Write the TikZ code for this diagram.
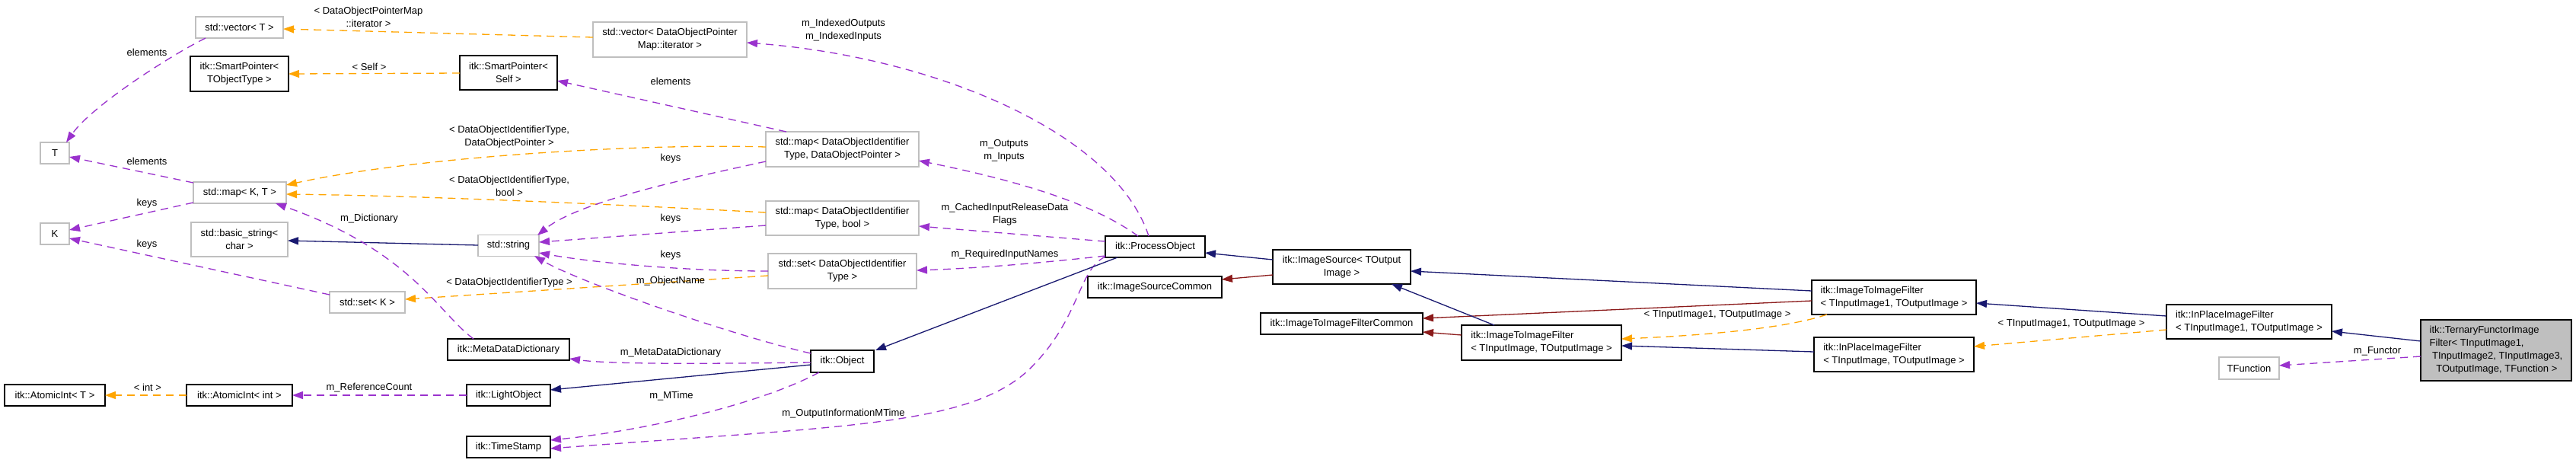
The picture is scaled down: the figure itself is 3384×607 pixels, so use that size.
\documentclass[tikz,border=0pt]{standalone}
\usepackage{fontspec}
\setmainfont{Liberation Sans}
\usetikzlibrary{arrows.meta,calc}
\definecolor{cblue}{HTML}{191970}
\definecolor{cred}{HTML}{8B1A1A}
\definecolor{corange}{HTML}{FFA500}
\definecolor{cpurple}{HTML}{9A32CD}
\definecolor{cgray}{HTML}{BFBFBF}
\begin{document}
\begin{tikzpicture}[x=0.5pt,y=-0.5pt,
  every node/.style={font=\fontsize{6.5}{8.5}\selectfont, inner sep=0pt, outer sep=0pt},
  cls/.style={draw=black, line width=0.9pt, fill=white, align=center},
  tpl/.style={draw=cgray, line width=0.9pt, fill=white, align=center},
  sz/.style 2 args={minimum width={#1*0.5pt}, minimum height={#2*0.5pt}},
  lbl/.style={align=center},
  arrowhd/.style={-{Triangle[length=7pt,width=5pt]}},
  dsh/.style={dash pattern=on 5pt off 3.5pt},
  eblue/.style={draw=cblue, line width=0.65pt, arrowhd, fill=none},
  ered/.style={draw=cred, line width=0.65pt, arrowhd},
  epurple/.style={draw=cpurple, line width=0.65pt, dsh, arrowhd},
  eorange/.style={draw=corange, line width=0.65pt, dsh, arrowhd}
]
\path[fill=white] (0,0) rectangle (3384,607);
\useasboundingbox (0,0) rectangle (3384,607);

% nodes
\node[tpl, sz={115}{28}] (vecT) at (314.5,36) {std::vector< T >};
\node[cls, sz={129}{46}] (spTOT) at (314.5,97) {itk::SmartPointer<\\TObjectType >};
\node[cls, sz={128}{45}] (spSelf) at (668,95.5) {itk::SmartPointer<\\Self >};
\node[tpl, sz={38}{28}] (T) at (72,201) {T};
\node[tpl, sz={122}{28}] (mapKT) at (315,253) {std::map< K, T >};
\node[tpl, sz={38}{28}] (K) at (72,307) {K};
\node[tpl, sz={127}{45}] (bstr) at (314.5,314.5) {std::basic\_string<\\char >};
\node[tpl, sz={80}{28}] (str) at (668,322.5) {std::string};
\node[tpl, sz={99}{28}] (setK) at (482.5,397) {std::set< K >};
\node[cls, sz={160}{28}] (mdd) at (668,459) {itk::MetaDataDictionary};
\node[cls, sz={132}{28}] (aiT) at (72,519) {itk::AtomicInt< T >};
\node[cls, sz={139}{28}] (aiInt) at (314.5,519) {itk::AtomicInt< int >};
\node[cls, sz={110}{28}] (light) at (668,519) {itk::LightObject};
\node[cls, sz={110}{28}] (ts) at (668,587) {itk::TimeStamp};
\node[tpl, sz={202}{46}] (vecDOPM) at (880,52) {std::vector< DataObjectPointer\\Map::iterator >};
\node[tpl, sz={201}{46}] (mapDOP) at (1106.5,196) {std::map< DataObjectIdentifier\\Type, DataObjectPointer >};
\node[tpl, sz={201}{45}] (mapBool) at (1106.5,286.5) {std::map< DataObjectIdentifier\\Type, bool >};
\node[tpl, sz={195}{46}] (setDOIT) at (1106.5,356) {std::set< DataObjectIdentifier\\Type >};
\node[cls, sz={83}{29}] (obj) at (1106.5,474.5) {itk::Object};
\node[cls, sz={131}{28}] (po) at (1517.5,324) {itk::ProcessObject};
\node[cls, sz={176}{28}] (isc) at (1517,377) {itk::ImageSourceCommon};
\node[cls, sz={181}{45}] (is) at (1762.5,350.5) {itk::ImageSource< TOutput\\Image >};
\node[cls, sz={213}{28}] (itifc) at (1762.5,425) {itk::ImageToImageFilterCommon};
\node[cls, sz={210}{46}, align=left] (itif) at (2025,450) {itk::ImageToImageFilter\\< TInputImage, TOutputImage >};
\node[cls, sz={216}{45}, align=left] (itif1) at (2488,390.5) {itk::ImageToImageFilter\\< TInputImage1, TOutputImage >};
\node[cls, sz={210}{45}, align=left] (ipif) at (2488,465.5) {itk::InPlaceImageFilter\\< TInputImage, TOutputImage >};
\node[cls, sz={217}{45}, align=left] (ipif1) at (2954.5,422.5) {itk::InPlaceImageFilter\\< TInputImage1, TOutputImage >};
\node[cls, sz={198}{80}, align=left, fill=cgray] (tern) at (3279,460) {itk::TernaryFunctorImage\\Filter< TInputImage1,\\\hspace*{1.7pt}TInputImage2, TInputImage3,\\\hspace*{4.3pt}TOutputImage, TFunction >};
\node[tpl, sz={79}{29}] (tfun) at (2954.5,483.5) {TFunction};

% edges
\draw[eorange] ($(vecDOPM.center)+(-101,-3)$) -- ($(vecT.center)+(57.5,2)$);
\draw[eorange] ($(spSelf.center)+(-64,0.5)$) -- ($(spTOT.center)+(64.5,0)$);
\draw[epurple] ($(vecT.center)+(-44.5,14)$) .. controls (220,75) and (120,140) .. ($(T.center)+(15,-14)$);
\draw[epurple] ($(mapKT.center)+(-61,-13)$) -- ($(T.center)+(19,5)$);
\draw[epurple] ($(mapKT.center)+(-61,13)$) -- ($(K.center)+(19,-5)$);
\draw[epurple] ($(setK.center)+(-49.5,-10)$) -- ($(K.center)+(19,6)$);
\draw[eorange] ($(mapDOP.center)+(-100.5,-3)$) .. controls (850,188) and (550,205) .. ($(mapKT.center)+(61,-10)$);
\draw[eorange] ($(mapBool.center)+(-100.5,-7.5)$) .. controls (800,268) and (550,257) .. ($(mapKT.center)+(61,2)$);
\draw[eorange] ($(setDOIT.center)+(-97.5,6)$) -- ($(setK.center)+(49.5,-4)$);
\draw[eblue] ($(str.center)+(-40,-0.5)$) -- ($(bstr.center)+(63.5,1.5)$);
\draw[epurple] ($(mapDOP.center)+(-100.5,16)$) .. controls (900,235) and (760,265) .. ($(str.center)+(38,-13.5)$);
\draw[epurple] ($(mapBool.center)+(-100.5,9.5)$) -- ($(str.center)+(40,-4.5)$);
\draw[epurple] ($(setDOIT.center)+(-97.5,0)$) .. controls (900,356) and (780,345) .. ($(str.center)+(40,9.5)$);
\draw[epurple] ($(obj.center)+(-41.5,-10.5)$) .. controls (960,440) and (760,370) .. ($(str.center)+(34,13.5)$);
\draw[epurple] ($(obj.center)+(-41.5,1.5)$) .. controls (900,478) and (800,478) .. ($(mdd.center)+(80,12)$);
\draw[epurple] ($(mdd.center)+(-46,-14)$) .. controls (575,410) and (540,330) .. ($(mapKT.center)+(47,14)$);
\draw[eblue] ($(obj.center)+(-41.5,4.5)$) -- ($(light.center)+(55,-7)$);
\draw[epurple] ($(light.center)+(-55,0)$) -- ($(aiInt.center)+(69.5,0)$);
\draw[eorange] ($(aiInt.center)+(-69.5,0)$) -- ($(aiT.center)+(66,0)$);
\draw[epurple] ($(obj.center)+(-30.5,14.5)$) .. controls (1000,530) and (850,565) .. ($(ts.center)+(55,-9)$);
\draw[epurple] ($(po.center)+(-65.5,13)$) .. controls (1415,355) and (1420,420) .. (1350,487) .. controls (1270,560) and (1100,560) .. ($(ts.center)+(55,2)$);
\draw[eblue] ($(po.center)+(-49.5,14)$) -- ($(obj.center)+(43.5,-14.5)$);
\draw[epurple] ($(mapDOP.center)+(-73.5,-23)$) -- ($(spSelf.center)+(64,10.5)$);
\draw[epurple] ($(po.center)+(-8.5,-14)$) .. controls (1465,175) and (1230,75) .. ($(vecDOPM.center)+(101,4)$);
\draw[epurple] ($(po.center)+(-22.5,-14)$) .. controls (1440,270) and (1350,240) .. ($(mapDOP.center)+(100.5,15)$);
\draw[epurple] ($(po.center)+(-65.5,-7)$) -- ($(mapBool.center)+(100.5,10.5)$);
\draw[epurple] ($(po.center)+(-65.5,12)$) .. controls (1370,345) and (1290,352) .. ($(setDOIT.center)+(97.5,-1)$);
\draw[eblue] ($(is.center)+(-90.5,-9.5)$) -- ($(po.center)+(65.5,8)$);
\draw[ered] ($(is.center)+(-90.5,10.5)$) -- ($(isc.center)+(88,-10)$);
\draw[eblue] ($(itif1.center)+(-108,-8.5)$) -- ($(is.center)+(90.5,5.5)$);
\draw[ered] ($(itif1.center)+(-108,4.5)$) -- ($(itifc.center)+(106.5,-7)$);
\draw[eblue] ($(itif.center)+(-62,-23)$) -- ($(is.center)+(65.5,22.5)$);
\draw[ered] ($(itif.center)+(-105,-10)$) -- ($(itifc.center)+(106.5,11)$);
\draw[eorange] ($(itif1.center)+(-88,22.5)$) .. controls (2350,430) and (2250,440) .. ($(itif.center)+(105,-5)$);
\draw[eblue] ($(ipif.center)+(-105,-3.5)$) -- ($(itif.center)+(105,4)$);
\draw[eblue] ($(ipif1.center)+(-108.5,-7.5)$) -- ($(itif1.center)+(108,7.5)$);
\draw[eorange] ($(ipif1.center)+(-108.5,10.5)$) -- ($(ipif.center)+(105,-10.5)$);
\draw[eblue] ($(tern.center)+(-99,-12)$) -- ($(ipif1.center)+(108.5,12.5)$);
\draw[epurple] ($(tern.center)+(-99,8)$) -- ($(tfun.center)+(39.5,-3.5)$);

% labels
\node[lbl] (l1) at (484,22) {< DataObjectPointerMap\\::iterator >};
\node[lbl] (l2) at (485,88) {< Self >};
\node[lbl] (l3) at (193,69) {elements};
\node[lbl] (l4) at (193,212) {elements};
\node[lbl] (l5) at (193,267) {keys};
\node[lbl] (l6) at (193,321) {keys};
\node[lbl] (l7) at (669,180) {< DataObjectIdentifierType,\\DataObjectPointer >};
\node[lbl] (l8) at (669,244) {< DataObjectIdentifierType,\\bool >};
\node[lbl] (l9) at (669,371) {< DataObjectIdentifierType >};
\node[lbl] (l11) at (881,208) {keys};
\node[lbl] (l12) at (881,287) {keys};
\node[lbl] (l13) at (881,335) {keys};
\node[lbl] (l14) at (881,369) {m\_ObjectName};
\node[lbl] (l15) at (881,463) {m\_MetaDataDictionary};
\node[lbl] (l16) at (485,287) {m\_Dictionary};
\node[lbl] (l18) at (485,509) {m\_ReferenceCount};
\node[lbl] (l19) at (194,509) {< int >};
\node[lbl] (l20) at (882,520) {m\_MTime};
\node[lbl] (l21) at (1108,543) {m\_OutputInformationMTime};
\node[lbl] (l23) at (881,107) {elements};
\node[lbl] (l24) at (1108,40) {m\_IndexedOutputs\\m\_IndexedInputs};
\node[lbl] (l25) at (1319,198) {m\_Outputs\\m\_Inputs};
\node[lbl] (l26) at (1320,282) {m\_CachedInputReleaseData\\Flags};
\node[lbl] (l27) at (1320,334) {m\_RequiredInputNames};
\node[lbl] (l34) at (2256,413) {< TInputImage1, TOutputImage >};
\node[lbl] (l37) at (2721,425) {< TInputImage1, TOutputImage >};
\node[lbl] (l39) at (3123,461) {m\_Functor};
\end{tikzpicture}
\end{document}
